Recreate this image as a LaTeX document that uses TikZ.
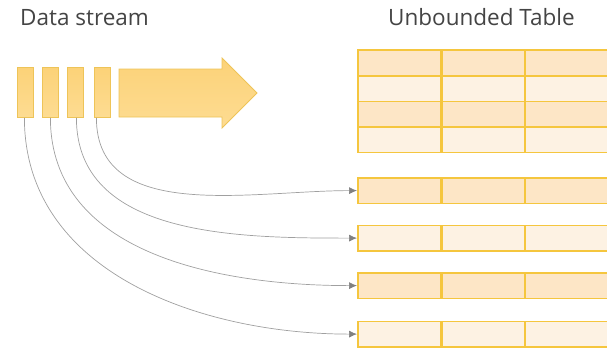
\documentclass[tikz,border=0pt]{standalone}
\usepackage{fontspec}
\setmainfont{Open Sans}
\usetikzlibrary{arrows.meta,shapes.arrows}
\definecolor{boxfilltop}{HTML}{FCD278}
\definecolor{boxfillbot}{HTML}{FDDC92}
\definecolor{boxline}{HTML}{EEC458}
\definecolor{rowdark}{HTML}{FDE6C6}
\definecolor{rowlight}{HTML}{FDF2E3}
\definecolor{tline}{HTML}{F5C63E}
\definecolor{curve}{HTML}{A0A0A0}
\definecolor{tip}{HTML}{808080}
\definecolor{txt}{HTML}{444444}
\tikzset{
  chunk/.style={draw=boxline, line width=0.8pt, top color=boxfilltop, bottom color=boxfillbot, minimum width=16pt, minimum height=50pt, inner sep=0pt, anchor=north west},
  cell/.style={draw=tline, line width=1.7pt, minimum width=83pt, minimum height=25.5pt, inner sep=0pt, anchor=north west},
  dark/.style={cell, fill=rowdark},
  light/.style={cell, fill=rowlight},
  title/.style={font=\fontsize{22.5}{27}\selectfont, text=txt, inner sep=0pt, anchor=base west},
  flow/.style={draw=curve, line width=0.7pt, -{Latex[length=8pt,width=7pt,color=tip]}, out=-90, in=180},
}
\begin{document}
\begin{tikzpicture}[x=1pt,y=-1pt]
\useasboundingbox (0,0) rectangle (607,349);
\node[title] (ds) at (20,25.5) {Data stream};
\node[title] (ut) at (388,25.5) {Unbounded Table};
% chunks
\node[chunk] (c1) at (17,67) {};
\node[chunk] (c2) at (42,67) {};
\node[chunk] (c3) at (67,67) {};
\node[chunk] (c4) at (94,67) {};
% big arrow
\path[draw=boxline, line width=0.8pt, top color=boxfilltop, bottom color=boxfillbot]
  (119,69) -- (222,69) -- (222,58) -- (257,93) -- (222,128) -- (222,117) -- (119,117) -- cycle;
% unbounded table
\foreach \r/\y/\s in {1/49/dark,2/75/light,3/100.5/dark,4/126/light}{
  \node[\s] (t\r a) at (357,\y) {};
  \node[\s] (t\r b) at (441,\y) {};
  \node[\s] (t\r c) at (524,\y) {};
}
% separate rows
\foreach \r/\y/\s in {1/177/dark,2/224.5/light,3/272/dark,4/320.5/light}{
  \node[\s] (r\r a) at (357,\y) {};
  \node[\s] (r\r b) at (441,\y) {};
  \node[\s] (r\r c) at (524,\y) {};
}
% connectors
\draw[flow] ([xshift=-6pt]c4.south) to (r1a.west);
\draw[flow] ([xshift=1pt]c3.south) to (r2a.west);
\draw[flow] ([xshift=0pt]c2.south) to (r3a.west);
\draw[flow] ([xshift=-1pt]c1.south) to (r4a.west);
\end{tikzpicture}
\end{document}
